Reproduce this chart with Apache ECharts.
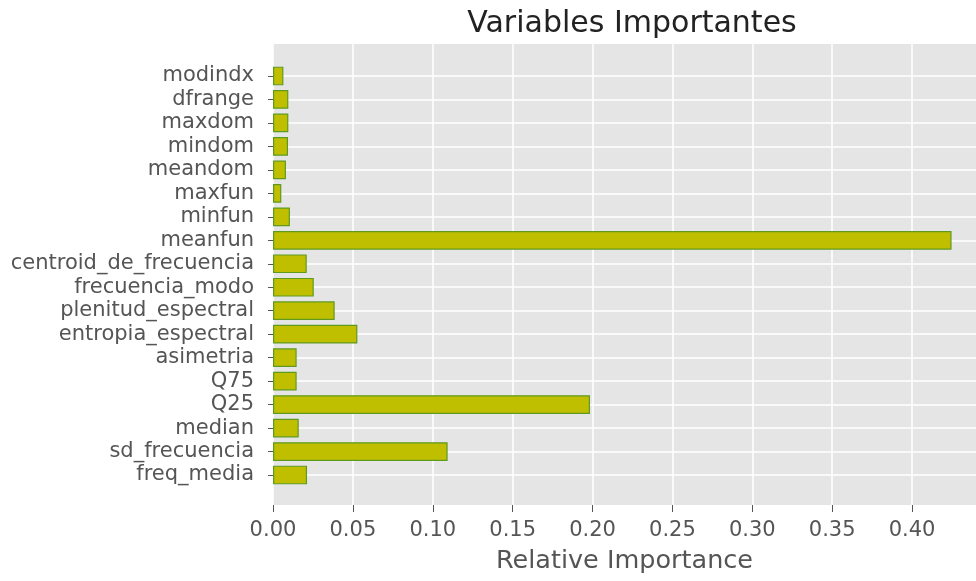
<!DOCTYPE html>
<html>
<head>
<meta charset="utf-8">
<script src="https://cdn.jsdelivr.net/npm/echarts@6/dist/echarts.min.js"></script>
<style>
html,body{margin:0;padding:0;background:#fff;}
#chart{width:976px;height:581px;}
</style>
</head>
<body>
<div id="chart"></div>
<script>
// Categories listed bottom-to-top, as in the reference
const categories = ['freq_media','sd_frecuencia','median','Q25','Q75','asimetria',
  'entropia_espectral','plenitud_espectral','frecuencia_modo','centroid_de_frecuencia',
  'meanfun','minfun','maxfun','meandom','mindom','maxdom','dfrange','modindx'];
const importance = [0.0213,0.1093,0.0161,0.1984,0.0148,0.0148,
  0.0528,0.0386,0.0255,0.0211,
  0.4247,0.0106,0.0052,0.0081,0.0094,0.0096,0.0096,0.0065];
const xTicks = [0,0.05,0.10,0.15,0.20,0.25,0.30,0.35,0.40];
const titleText = 'Variables Importantes';
const xName = 'Relative Importance';

const FONT = 'DejaVu Sans';
const xMax = 0.44;
const chart = echarts.init(document.getElementById('chart'), null, {renderer:'canvas'});
chart.setOption({
  animation:false,
  backgroundColor:'#ffffff',
  title:{
    text:titleText, left:627, top:4, textAlign:'center',
    textStyle:{fontFamily:FONT, fontSize:30, fontWeight:'normal', color:'#222222'}
  },
  grid:[
    {left:273, right:0, top:44, height:461, show:true, backgroundColor:'#e5e5e5', borderWidth:0},
    {left:273, right:0, top:76, height:399, show:false}
  ],
  xAxis:[
    {type:'value', gridIndex:0, min:0, max:xMax, interval:0.05,
     name:xName, nameLocation:'middle', nameGap:43,
     nameTextStyle:{fontFamily:FONT, fontSize:25.5, color:'#555555'},
     axisLine:{show:false},
     axisTick:{show:true, length:7, lineStyle:{color:'#555555', width:1}, customValues:xTicks},
     axisLabel:{fontFamily:FONT, fontSize:21, color:'#555555', margin:15,
       customValues:xTicks, formatter:v=>v.toFixed(2)},
     splitLine:{show:true, lineStyle:{color:'#ffffff', width:1.5}}
    },
    {type:'value', gridIndex:1, min:0, max:xMax, show:false, splitLine:{show:false}}
  ],
  yAxis:[
    {type:'value', gridIndex:0, show:false, splitLine:{show:false}},
    {type:'category', gridIndex:1, data:categories, boundaryGap:false,
     axisLine:{show:false},
     axisTick:{show:true, length:5, lineStyle:{color:'#555555'}},
     axisLabel:{fontFamily:FONT, fontSize:21, color:'#555555', margin:19, interval:0},
     splitLine:{show:true, interval:0, lineStyle:{color:'#ffffff', width:1.5}}
    }
  ],
  series:[{
    type:'bar', xAxisIndex:1, yAxisIndex:1, data:importance,
    barWidth:18.7, clip:false,
    itemStyle:{color:'#bfbf00', borderColor:'#5f9a1f', borderWidth:1.2}
  }]
});
</script>
</body>
</html>
